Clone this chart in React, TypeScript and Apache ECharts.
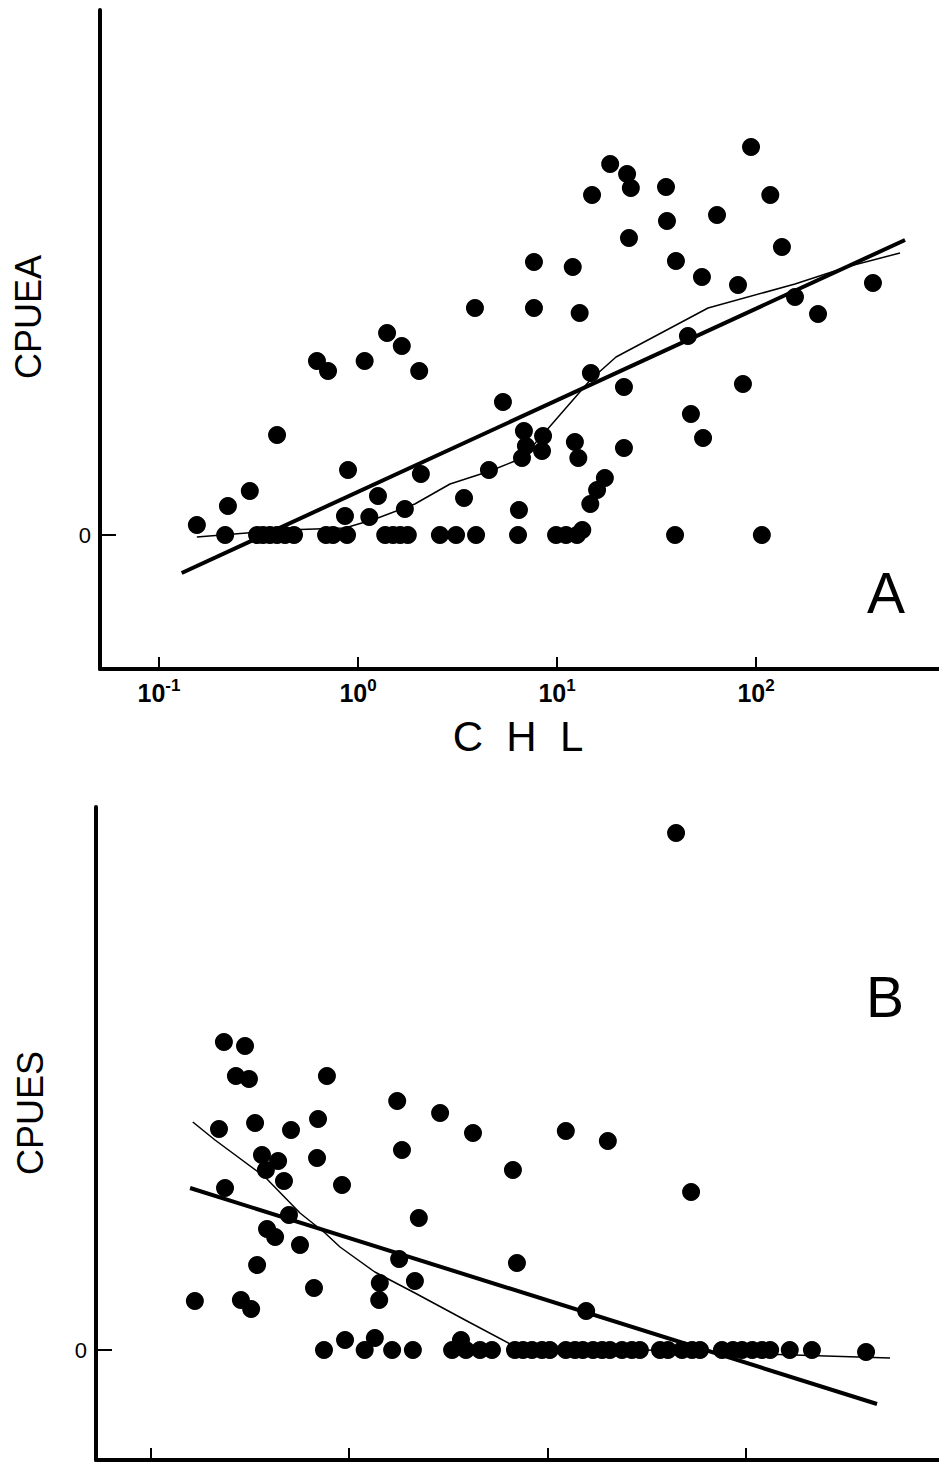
import React, { useEffect, useRef } from 'react';
import * as echarts from 'echarts';

// ---------- data ----------
const chlTicks = [0.1, 1, 10, 100];

// Panel A: CPUEA vs CHL
const aChl = [
  0.155, 0.222, 0.286, 0.392, 0.622, 0.707, 1.08, 1.40, 1.66, 2.03,
  0.891, 0.860, 1.14, 1.26, 1.72, 2.07, 3.87, 3.41, 4.55, 5.35,
  6.44, 6.82, 8.51, 6.98, 8.41, 6.67, 7.66, 7.66, 12.0, 13.0,
  12.3, 12.8, 14.8, 21.7, 21.7, 14.7, 15.9, 17.4, 13.4, 15.0,
  18.5, 22.5, 23.5, 23.0, 35.3, 35.7, 39.6, 53.5, 63.7, 81.2,
  94.4, 118, 135, 157, 205, 387, 45.5, 47.1, 54.2, 86.0,
];
const aCpue = [
  0.10, 0.29, 0.44, 1.00, 1.74, 1.64, 1.74, 2.02, 1.89, 1.64,
  0.65, 0.19, 0.18, 0.39, 0.26, 0.61, 2.27, 0.37, 0.65, 1.33,
  0.25, 1.04, 0.99, 0.89, 0.84, 0.77, 2.73, 2.27, 2.68, 2.22,
  0.93, 0.77, 1.62, 1.48, 0.87, 0.31, 0.45, 0.57, 0.05, 3.40,
  3.71, 3.61, 3.47, 2.97, 3.48, 3.14, 2.74, 2.58, 3.20, 2.50,
  3.88, 3.40, 2.88, 2.38, 2.21, 2.52, 1.99, 1.21, 0.97, 1.51,
];
const aZeroChl = [
  0.215, 0.311, 0.333, 0.361, 0.392, 0.430, 0.477, 0.691, 0.749, 0.881,
  1.37, 1.50, 1.63, 1.78, 2.58, 3.11, 3.92, 6.37, 9.89, 11.1, 12.6, 39.2, 107,
];
const aFitChl = [0.130, 561];
const aFitCpue = [-0.38, 2.95];
const aSmoothChl = [0.155, 0.430, 0.860, 1.22, 1.93, 2.90, 4.61, 6.15, 7.32, 8.71, 14.7, 19.8, 57.4, 157, 297, 529];
const aSmoothCpue = [-0.02, 0.05, 0.07, 0.16, 0.31, 0.51, 0.64, 0.74, 0.86, 1.03, 1.55, 1.78, 2.27, 2.51, 2.69, 2.82];

// Panel B: CPUES vs CHL
const bChl = [
  44.6, 0.234, 0.299, 0.269, 0.313, 0.774, 0.221, 0.336, 0.510, 0.698,
  1.75, 2.88, 4.22, 12.4, 20.2, 1.85, 6.71, 53.1, 0.364, 0.439,
  0.381, 0.470, 0.690, 0.922, 0.237, 0.498, 2.25, 0.386, 0.424, 0.566,
  1.79, 0.344, 7.03, 0.666, 1.43, 2.15, 1.42, 0.167, 0.285, 0.321, 15.7,
];
const bCpue = [
  5.17, 3.08, 3.04, 2.74, 2.71, 2.74, 2.21, 2.27, 2.20, 2.31,
  2.49, 2.37, 2.17, 2.19, 2.09, 2.00, 1.80, 1.58, 1.95, 1.89,
  1.80, 1.69, 1.92, 1.65, 1.62, 1.35, 1.32, 1.21, 1.13, 1.05,
  0.91, 0.85, 0.87, 0.62, 0.67, 0.69, 0.50, 0.49, 0.50, 0.41, 0.39,
];
const bZeroChl = [
  0.748, 0.955, 1.20, 1.35, 1.65, 2.10, 3.31, 3.67, 3.89, 4.58,
  5.26, 6.87, 7.54, 8.37, 9.40, 10.3, 12.4, 13.8, 15.1, 17.0,
  18.9, 20.7, 23.8, 26.7, 29.3, 37.0, 40.6, 47.8, 53.7, 58.9,
  76.0, 86.3, 95.9, 108, 121, 133, 167, 216, 405,
];
const bZeroCpue = [
  0, 0.10, 0, 0.12, 0, 0, 0, 0.10, 0, 0,
  0, 0, 0, 0, 0, 0, 0, 0, 0, 0,
  0, 0, 0, 0, 0, 0, 0, 0, 0, 0,
  0, 0, 0, 0, 0, 0, 0, 0, -0.02,
];
const bFitChl = [0.158, 460];
const bFitCpue = [1.62, -0.54];
const bSmoothChl = [0.163, 0.211, 0.377, 0.566, 0.757, 0.901, 1.35, 2.15, 3.85, 6.64, 58.9, 535];
const bSmoothCpue = [2.28, 2.10, 1.73, 1.37, 1.17, 1.03, 0.78, 0.57, 0.30, 0.05, -0.02, -0.08];

// ---------- helpers ----------
const zip = (xs: number[], ys: number[]) => xs.map((x, i) => [x, ys[i]]);
const FONT = "'Liberation Sans', Arial, Helvetica, sans-serif";

export default function App() {
  const ref = useRef<HTMLDivElement>(null);

  useEffect(() => {
    if (!ref.current) return;
    const chart = echarts.init(ref.current, undefined, { renderer: 'svg' });

    const axisLine = { show: true, onZero: false, lineStyle: { color: '#000', width: 4 } };
    const rich = {
      b: { fontSize: 25, fontWeight: 'bold', fontFamily: FONT, color: '#000', lineHeight: 32 },
      s: { fontSize: 17, fontWeight: 'bold', fontFamily: FONT, color: '#000', lineHeight: 18, verticalAlign: 'top' },
    };

    const xBase = (gi: number, min: number, max: number, labels: boolean) => ({
      type: 'log',
      logBase: 10,
      gridIndex: gi,
      min,
      max,
      axisLine,
      axisTick: { show: true, inside: true, length: 12, customValues: chlTicks, lineStyle: { color: '#000', width: 2 } },
      axisLabel: {
        show: labels,
        customValues: chlTicks,
        margin: 8,
        fontSize: 25,
        fontFamily: FONT,
        color: '#000',
        formatter: (v: number) => `{b|10}{s|${Math.round(Math.log10(v))}}`,
        rich,
      },
      splitLine: { show: false },
      minorTick: { show: false },
      minorSplitLine: { show: false },
    });

    const yBase = (gi: number, min: number, max: number) => ({
      type: 'value',
      gridIndex: gi,
      min,
      max,
      axisLine,
      axisTick: { show: true, inside: true, length: 16, customValues: [0], lineStyle: { color: '#000', width: 2 } },
      axisLabel: {
        show: true,
        customValues: [0],
        formatter: () => '0',
        margin: 9,
        fontSize: 22,
        fontFamily: FONT,
        color: '#000',
      },
      splitLine: { show: false },
    });

    const dots = (gi: number, data: number[][]) => ({
      type: 'scatter',
      xAxisIndex: gi,
      yAxisIndex: gi,
      symbol: 'circle',
      symbolSize: 18,
      itemStyle: { color: '#000', opacity: 1 },
      emphasis: { disabled: true },
      data,
      z: 3,
    });
    const line = (gi: number, data: number[][], width: number) => ({
      type: 'line',
      xAxisIndex: gi,
      yAxisIndex: gi,
      showSymbol: false,
      symbol: 'none',
      lineStyle: { color: '#000', width, opacity: 1 },
      data,
      z: 2,
    });

    const titleText = (text: string, x: number, y: number, size: number, rotation = 0) => ({
      type: 'text',
      x,
      y,
      rotation,
      style: { text, fill: '#000', fontSize: size, fontFamily: FONT, align: 'center', verticalAlign: 'middle' },
    });

    chart.setOption({
      animation: false,
      backgroundColor: '#fff',
      grid: [
        { left: 100, top: 10, width: 839, height: 659, containLabel: false },
        { left: 96, top: 807, width: 843, height: 653, containLabel: false },
      ],
      xAxis: [
        xBase(0, Math.pow(10, (100 - 358) / 199), Math.pow(10, (939 - 358) / 199), true),
        xBase(1, Math.pow(10, (96 - 349) / 198.3), Math.pow(10, (939 - 349) / 198.3), false),
      ],
      yAxis: [yBase(0, -1.34, 5.25), yBase(1, -1.10, 5.43)],
      series: [
        dots(0, zip(aChl, aCpue)),
        dots(0, aZeroChl.map((x) => [x, 0])),
        line(0, zip(aFitChl, aFitCpue), 4),
        line(0, zip(aSmoothChl, aSmoothCpue), 1.5),
        dots(1, zip(bChl, bCpue)),
        dots(1, zip(bZeroChl, bZeroCpue)),
        line(1, zip(bFitChl, bFitCpue), 4),
        line(1, zip(bSmoothChl, bSmoothCpue), 1.5),
      ],
      graphic: [
        titleText('CPUEA', 28, 317, 36, Math.PI / 2),
        titleText('CPUES', 30, 1113, 36, Math.PI / 2),
        titleText('C  H  L', 518, 736, 42),
        titleText('A', 886, 593, 57),
        titleText('B', 885, 997, 57),
      ],
    });

    return () => chart.dispose();
  }, []);

  return (
    <div
      ref={ref}
      style={{ position: 'absolute', left: 0, top: 0, width: 939, height: 1463 }}
    />
  );
}
